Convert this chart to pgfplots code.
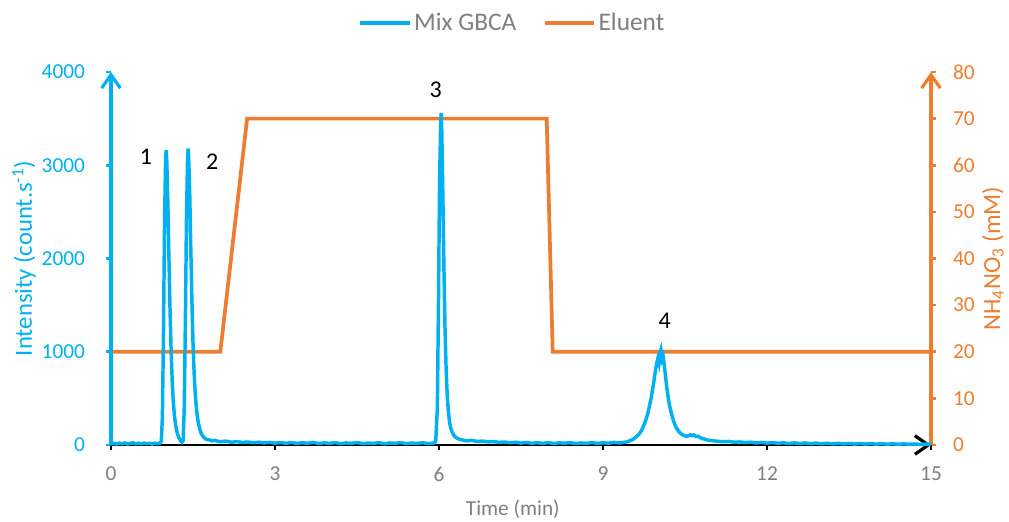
\documentclass[border=0pt]{standalone}
\usepackage{pgfplots}
\pgfplotsset{compat=1.18}
\usepackage{fontspec}
\setmainfont{Carlito}
\usetikzlibrary{arrows.meta}
\definecolor{cblue}{HTML}{00B0F0}
\definecolor{corange}{HTML}{ED7D31}
\definecolor{cgray}{HTML}{7F7F7F}

\begin{document}
\fontsize{16}{19}\selectfont
\begin{tikzpicture}
\useasboundingbox (-83.25pt,-57pt) rectangle (673.5pt,333.75pt);
\pgfplotsset{
  every axis/.append style={
    scale only axis, width=615pt, height=279.75pt,
    at={(0,0)}, anchor=south west,
    xmin=0, xmax=15, clip=false,
    font=\fontsize{16}{19}\selectfont,
    /pgf/number format/assume math mode=true,
    /pgf/number format/set thousands separator={},
    scaled ticks=false,
    tick align=outside, major tick length=4pt,
  }
}
% right axis: eluent
\begin{axis}[
  axis x line=none, axis y line*=right,
  ymin=0, ymax=80, ytick={0,10,...,80},
  y axis line style={corange, line width=2.4pt, -{Straight Barb[length=10pt,width=14pt,line width=2.4pt]}},
  ytick style={corange, line width=2pt},
  yticklabel style={corange, xshift=7pt},
  ylabel={NH\textsubscript{4}NO\textsubscript{3} (mM)},
  ylabel style={corange, font=\fontsize{18.5}{21}\selectfont,
    at={(axis description cs:1.0755,0.5)}, anchor=center, rotate=0},
]
\addplot[corange, line width=2.8pt] coordinates {
  (0,20) (2.0,20) (2.49,70) (7.97,70) (8.08,20) (15,20)
};
\end{axis}
% left axis: intensity
\begin{axis}[
  axis x line*=bottom, axis y line*=left,
  ymin=0, ymax=4000, ytick={0,1000,...,4000},
  xtick={0,3,...,15},
  x axis line style={black, line width=2pt, -{Straight Barb[length=10pt,width=14pt,line width=2.4pt]}},
  y axis line style={cblue, line width=2.4pt, -{Straight Barb[length=10pt,width=14pt,line width=2.4pt]}},
  xtick style={black, line width=2pt},
  ytick style={cblue, line width=2pt},
  xticklabel style={cgray, yshift=-7pt},
  yticklabel style={cblue, xshift=-10pt},
  xlabel={Time (min)},
  xlabel style={cgray, at={(axis description cs:0.49,-0.172)}, anchor=center},
  ylabel={Intensity (count.s\textsuperscript{-1})},
  ylabel style={cblue, font=\fontsize{18.5}{21}\selectfont,
    at={(axis description cs:-0.106,0.5)}, anchor=center},
  legend style={at={(axis description cs:0.49,1.131)}, anchor=center, draw=none,
    text=cgray, legend columns=2, font=\fontsize{19}{22}\selectfont,
    /tikz/every even column/.append style={column sep=18pt}},
  legend image code/.code={\draw[#1] (0pt,0pt) -- (37pt,0pt);},
]
\addplot[cblue, line width=2.6pt] coordinates {
(0,12)(0.05,18)(0.1,10)(0.15,20)(0.2,14)(0.25,22)(0.3,11)(0.35,17)(0.4,24)(0.45,13)(0.5,19)(0.55,12)(0.6,21)(0.65,15)(0.7,18)(0.75,10)(0.8,20)(0.85,14)(0.9,22)
(0.92,40)(0.94,300)(0.96,1200)(0.98,2400)(1.0,3100)(1.01,3160)(1.02,3050)(1.04,2600)(1.06,2000)(1.08,1450)(1.10,1000)(1.12,680)(1.14,460)(1.16,320)(1.18,220)(1.20,160)(1.22,110)(1.24,80)(1.26,60)(1.28,40)(1.30,30)(1.32,50)
(1.34,400)(1.36,1300)(1.38,2400)(1.40,3050)(1.41,3180)(1.42,3100)(1.44,2700)(1.46,2100)(1.48,1550)(1.50,1100)(1.52,780)(1.54,560)(1.56,410)(1.58,300)(1.60,230)(1.62,180)(1.64,140)(1.66,115)(1.68,95)(1.70,80)(1.72,70)(1.75,60)(1.8,55)(1.85,45)(1.9,50)(1.95,40)(2.0,35)(2.1,42)(2.2,30)(2.3,36)(2.4,28)(2.5,32)(2.6,24)(2.7,30)(2.8,22)(2.9,28)(3.0,20)
(3.1,26)(3.2,18)(3.3,27)(3.4,16)(3.5,24)(3.6,19)(3.7,28)(3.8,15)(3.9,23)(4.0,17)(4.1,26)(4.2,14)(4.3,22)(4.4,18)(4.5,27)(4.6,15)(4.7,21)(4.8,17)(4.9,25)(5.0,13)(5.1,22)(5.2,18)(5.3,26)(5.4,14)(5.5,21)(5.6,17)(5.7,24)(5.8,15)(5.9,20)
(5.94,40)(5.97,400)(5.99,1500)(6.01,2800)(6.03,3450)(6.04,3560)(6.05,3400)(6.07,2700)(6.09,1900)(6.11,1250)(6.13,820)(6.15,540)(6.17,370)(6.19,260)(6.21,190)(6.24,140)(6.27,105)(6.30,85)(6.34,70)(6.38,60)(6.42,55)(6.5,45)(6.6,50)(6.7,38)(6.8,42)(6.9,33)(7.0,37)(7.1,28)
(7.2,32)(7.3,24)(7.4,30)(7.5,20)(7.6,27)(7.7,18)(7.8,25)(7.9,17)(8.0,26)(8.1,15)(8.2,23)(8.3,19)(8.4,25)(8.5,16)(8.6,22)(8.7,18)(8.8,26)(8.9,17)(9.0,24)(9.1,19)(9.2,28)(9.3,22)(9.4,30)
(9.45,35)(9.5,48)(9.55,60)(9.6,85)(9.65,110)(9.7,150)(9.73,190)(9.76,230)(9.79,280)(9.82,340)(9.85,420)(9.88,500)(9.9,570)(9.92,640)(9.94,720)(9.96,800)(9.98,870)(10.0,920)(10.02,880)(10.03,960)(10.05,1000)(10.06,1020)(10.07,980)(10.08,920)(10.1,950)(10.12,860)(10.14,760)(10.16,650)(10.18,560)(10.2,480)(10.23,390)(10.26,320)(10.29,260)(10.32,210)(10.35,175)(10.38,150)(10.41,130)(10.44,115)(10.47,105)(10.5,100)(10.53,92)(10.56,98)(10.6,110)(10.63,100)(10.66,108)(10.7,90)(10.74,95)(10.78,78)(10.82,70)(10.86,62)(10.9,55)(10.95,50)(11.0,46)(11.1,40)(11.2,35)(11.3,38)(11.4,30)
(11.5,33)(11.6,26)(11.7,30)(11.8,22)(11.9,28)(12.0,20)(12.1,26)(12.2,18)(12.3,24)(12.4,16)(12.5,23)(12.6,15)(12.7,22)(12.8,14)(12.9,20)(13.0,13)(13.1,19)(13.2,12)(13.3,18)(13.4,11)(13.5,17)(13.6,10)(13.7,16)(13.8,10)(13.9,15)(14.0,9)(14.1,14)(14.2,9)(14.3,13)(14.4,8)(14.5,12)(14.6,8)(14.7,11)(14.8,7)(14.9,10)(15.0,8)
};
\addlegendentry{Mix GBCA}
\addlegendimage{corange, line width=2.8pt}
\addlegendentry{Eluent}
\node[black, font=\fontsize{18}{21}\selectfont] at (axis cs:0.64,3088) {1};
\node[black, font=\fontsize{18}{21}\selectfont] at (axis cs:1.85,3035) {2};
\node[black, font=\fontsize{18}{21}\selectfont] at (axis cs:5.94,3807) {3};
\node[black, font=\fontsize{18}{21}\selectfont] at (axis cs:10.13,1330) {4};
\end{axis}
\end{tikzpicture}
\end{document}
